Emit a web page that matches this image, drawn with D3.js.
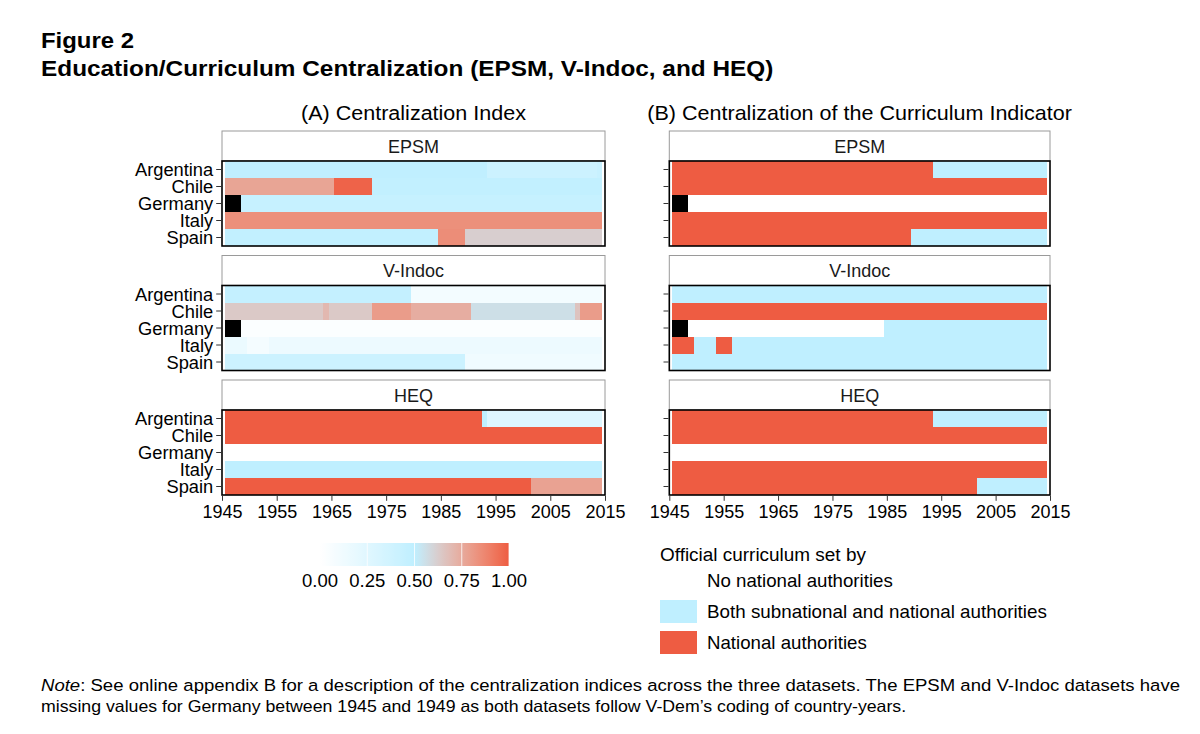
<!DOCTYPE html>
<html><head><meta charset="utf-8">
<script src="https://cdn.jsdelivr.net/npm/d3@7"></script>
<style>
body{margin:0;background:#fff}
text{font-family:"Liberation Sans",Arial,Helvetica,sans-serif;fill:#000}
</style>
</head><body>
<svg id="chart" width="1200" height="734"></svg>
<script>
// ---------------- DATA ----------------
const countries = ["Argentina","Chile","Germany","Italy","Spain"];
const datasets = ["EPSM","V-Indoc","HEQ"];
const yearTicks = [1945,1955,1965,1975,1985,1995,2005,2015];
const colorbarBreaks = [0,0.25,0.5,0.75,1];
const curriculumLevels = ["No national authorities","Both subnational and national authorities","National authorities"];

// Panel A: centralization index, runs of [firstYear, lastYear, value]; null = missing
const indexEPSM = {
  Argentina: [[1946,1993,0.49],[1994,2013,0.40],[2014,2014,0.43]],
  Chile:     [[1946,1965,0.77],[1966,1972,0.98],[1973,2014,0.48]],
  Germany:   [[1946,1948,null],[1949,2014,0.45]],
  Italy:     [[1946,2014,0.84]],
  Spain:     [[1946,1984,0.48],[1985,1989,0.85],[1990,2014,0.62]]
};
const indexVIndoc = {
  Argentina: [[1946,1979,0.46],[1980,2014,0.10]],
  Chile:     [[1946,1963,0.64],[1964,1964,0.70],[1965,1972,0.64],[1973,1979,0.80],[1980,1990,0.74],[1991,2009,0.56],[2010,2010,0.66],[2011,2014,0.80]],
  Germany:   [[1946,1948,null],[1949,2014,0.03]],
  Italy:     [[1946,1949,0.16],[1950,1953,0.09],[1954,2014,0.15]],
  Spain:     [[1946,1989,0.40],[1990,2014,0.12]]
};
const indexHEQ = {
  Argentina: [[1946,1992,1.00],[1993,1993,0.50],[1994,2014,0.27]],
  Chile:     [[1946,2014,1.00]],
  Germany:   [[1946,2014,0.00]],
  Italy:     [[1946,2014,0.50]],
  Spain:     [[1946,2001,1.00],[2002,2014,0.78]]
};
// Panel B: curriculum indicator, runs of [firstYear, lastYear, level]; 0 none, 1 both, 2 national, null missing
const curricEPSM = {
  Argentina: [[1946,1993,2],[1994,2014,1]],
  Chile:     [[1946,2014,2]],
  Germany:   [[1946,1948,null],[1949,2014,0]],
  Italy:     [[1946,2014,2]],
  Spain:     [[1946,1989,2],[1990,2014,1]]
};
const curricVIndoc = {
  Argentina: [[1946,2014,1]],
  Chile:     [[1946,2014,2]],
  Germany:   [[1946,1948,null],[1949,1984,0],[1985,2014,1]],
  Italy:     [[1946,1949,2],[1950,1953,1],[1954,1956,2],[1957,2014,1]],
  Spain:     [[1946,2014,1]]
};
const curricHEQ = {
  Argentina: [[1946,1993,2],[1994,2014,1]],
  Chile:     [[1946,2014,2]],
  Germany:   [[1946,2014,0]],
  Italy:     [[1946,2014,2]],
  Spain:     [[1946,2001,2],[2002,2014,1]]
};
const indexData = [indexEPSM, indexVIndoc, indexHEQ];
const curricData = [curricEPSM, curricVIndoc, curricHEQ];

// ---------------- STYLE / LAYOUT ----------------
const LOW = "#FFFFFF", MID = "#BFEFFF", HIGH = "#EE5C42", NA = "#000000";
const indexColor = v => v === null ? NA :
  (v <= 0.5 ? d3.interpolateLab(LOW, MID)(v / 0.5) : d3.interpolateLab(MID, HIGH)((v - 0.5) / 0.5));
const levelColor = d3.scaleOrdinal([0,1,2], [LOW, MID, HIGH]);
const curricColor = v => v === null ? NA : levelColor(v);

const svg = d3.select("#chart");
const FONT = 18;
const facetTop = [131, 255.5, 380];
const stripH = 30, dataH = 85;
const xA = d3.scaleLinear([1945, 2015], [222, 605]);
const xB = d3.scaleLinear([1945, 2015], [669.3, 1050]);

// stretch a text horizontally to a target width (reference typeface is wider)
function fitWidth(sel, w) {
  const cur = sel.node().getComputedTextLength();
  const x = +sel.attr("x"), y = +sel.attr("y");
  sel.attr("x", 0).attr("y", 0).attr("transform", `translate(${x},${y}) scale(${w / cur},1)`);
  return sel;
}

// Titles
fitWidth(svg.append("text").attr("x", 41).attr("y", 48).attr("font-size", 21.5).attr("font-weight", "bold").text("Figure 2"), 93);
fitWidth(svg.append("text").attr("x", 41).attr("y", 76).attr("font-size", 21.5).attr("font-weight", "bold")
  .text("Education/Curriculum Centralization (EPSM, V-Indoc, and HEQ)"), 733);
fitWidth(svg.append("text").attr("x", (xA.range()[0] + xA.range()[1]) / 2).attr("y", 120).attr("text-anchor", "middle")
  .attr("font-size", 20).text("(A) Centralization Index"), 225);
fitWidth(svg.append("text").attr("x", (xB.range()[0] + xB.range()[1]) / 2).attr("y", 120).attr("text-anchor", "middle")
  .attr("font-size", 20).text("(B) Centralization of the Curriculum Indicator"), 425);

function drawPanel(x, dataList, colorFn, showLabels) {
  datasets.forEach((ds, i) => {
    const top = facetTop[i];
    const dTop = top + stripH;
    const y = d3.scaleBand(countries, [dTop, dTop + dataH]);
    const g = svg.append("g");
    // strip
    g.append("rect").attr("x", x.range()[0]).attr("y", top).attr("width", x.range()[1] - x.range()[0])
      .attr("height", stripH).attr("fill", "#fff").attr("stroke", "#9a9a9a").attr("stroke-width", 1);
    g.append("text").attr("x", (x.range()[0] + x.range()[1]) / 2).attr("y", top + stripH / 2 + 6.5)
      .attr("text-anchor", "middle").attr("font-size", FONT).style("fill", "#1a1a1a").text(ds);
    // tiles
    const runs = [];
    countries.forEach(c => dataList[i][c].forEach(r => runs.push({c, a: r[0], b: r[1], v: r[2]})));
    g.append("g").selectAll("rect").data(runs).join("rect")
      .attr("x", d => x(d.a - 0.5)).attr("width", d => x(d.b + 0.5) - x(d.a - 0.5))
      .attr("y", d => y(d.c)).attr("height", y.bandwidth())
      .attr("fill", d => colorFn(d.v)).attr("shape-rendering", "crispEdges");
    // panel border
    g.append("rect").attr("x", x.range()[0]).attr("y", dTop).attr("width", x.range()[1] - x.range()[0])
      .attr("height", dataH).attr("fill", "none").attr("stroke", "#000").attr("stroke-width", 1.6);
    // y axis
    const ya = g.append("g").attr("transform", `translate(${x.range()[0] - 0.8},0)`)
      .call(d3.axisLeft(y).tickSize(5).tickPadding(3).tickFormat(showLabels ? (d => d) : () => ""));
    ya.select(".domain").remove();
    ya.selectAll("line").attr("stroke", "#333");
    ya.selectAll("text").attr("font-size", 18.3).attr("font-family", null).attr("dy", "0.38em").style("fill", "#000");
    if (i === datasets.length - 1) {
      const xa = g.append("g").attr("transform", `translate(0,${dTop + dataH + 0.8})`)
        .call(d3.axisBottom(x).tickValues(yearTicks).tickFormat(d3.format("d")).tickSize(5).tickPadding(4));
      xa.select(".domain").remove();
      xa.selectAll("line").attr("stroke", "#333");
      xa.selectAll("text").attr("font-size", FONT).attr("font-family", null).style("fill", "#000");
    }
  });
}
drawPanel(xA, indexData, indexColor, true);
drawPanel(xB, curricData, curricColor, false);

// Colorbar legend (panel A)
const cb = d3.scaleLinear([0, 1], [320, 509]);
const defs = svg.append("defs");
const grad = defs.append("linearGradient").attr("id", "cbgrad");
d3.range(0, 1.0001, 0.02).forEach(t => grad.append("stop").attr("offset", t).attr("stop-color", indexColor(t)));
svg.append("rect").attr("x", cb(0)).attr("y", 543).attr("width", cb(1) - cb(0)).attr("height", 23).attr("fill", "url(#cbgrad)");
svg.append("g").selectAll("line").data(colorbarBreaks).join("line")
  .attr("x1", d => cb(d)).attr("x2", d => cb(d)).attr("y1", 543).attr("y2", 566)
  .attr("stroke", "#fff").attr("stroke-width", 1).attr("opacity", 0.8);
svg.append("g").selectAll("text").data(colorbarBreaks).join("text")
  .attr("x", d => cb(d)).attr("y", 587).attr("text-anchor", "middle").attr("font-size", 18.5)
  .text(d => d3.format(".2f")(d));

// Categorical legend (panel B)
fitWidth(svg.append("text").attr("x", 660).attr("y", 561).attr("font-size", FONT).text("Official curriculum set by"), 206);
const keyY = [569, 600, 631];
const keyW = [186, 340, 160];
curriculumLevels.forEach((lab, k) => {
  svg.append("rect").attr("x", 660).attr("y", keyY[k]).attr("width", 37).attr("height", 23).attr("fill", levelColor(k));
  fitWidth(svg.append("text").attr("x", 707).attr("y", keyY[k] + 18).attr("font-size", FONT).text(lab), keyW[k]);
});

// Note
const note = svg.append("text").attr("x", 41).attr("y", 691).attr("font-size", 16.5);
note.append("tspan").attr("font-style", "italic").text("Note");
note.append("tspan").text(": See online appendix B for a description of the centralization indices across the three datasets. The EPSM and V-Indoc datasets have");
fitWidth(note, 1140);
fitWidth(svg.append("text").attr("x", 41).attr("y", 712).attr("font-size", 16.5)
  .text("missing values for Germany between 1945 and 1949 as both datasets follow V-Dem\u2019s coding of country-years."), 866);
</script>
</body></html>
